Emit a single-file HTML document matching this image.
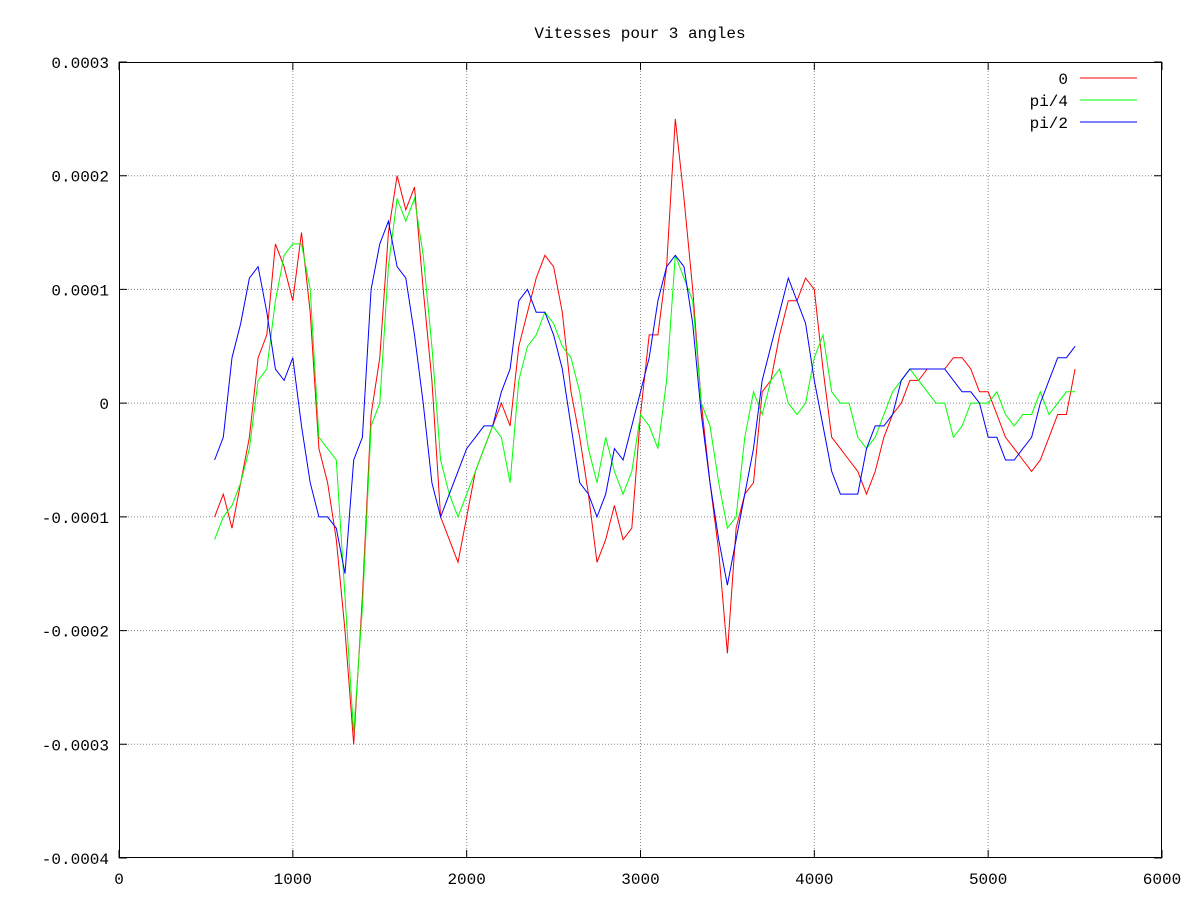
<!DOCTYPE html>
<html><head><meta charset="utf-8"><style>
body{margin:0;background:#fff}
svg{display:block;font-family:"Liberation Mono","DejaVu Sans Mono",monospace;font-size:16px}
</style></head><body>
<svg id="chart" width="1200" height="900" xmlns="http://www.w3.org/2000/svg">
<text x="640" y="38" text-anchor="middle">Vitesses pour 3 angles</text>
<g id="grid"></g>
<g id="axes"></g>
<g id="series"></g>
<g id="legend"></g>
</svg>
<script>
const xStart = 550, xStep = 50;
// values in units of 1e-5
const series0 = [-10,-8,-11,-7,-3,4,6,14,12,9,15,8,-4,-7,-12,-20,-30,-17,-1,4,15,20,17,19,10,2,-10,-12,-14,-10,-6,-4,-2,0,-2,5,8,11,13,12,8,1,-3,-8,-14,-12,-9,-12,-11,-1,6,6,12,25,18,10,0,-7,-13,-22,-11,-8,-7,1,2,6,9,9,11,10,3,-3,-4,-5,-6,-8,-6,-3,-1,0,2,2,3,3,3,4,4,3,1,1,-1,-3,-4,-5,-6,-5,-3,-1,-1,3];
const seriesPi4 = [-12,-10,-9,-7,-4,2,3,9,13,14,14,10,-3,-4,-5,-17,-29,-18,-2,0,12,18,16,18,13,5,-5,-8,-10,-8,-6,-4,-2,-3,-7,2,5,6,8,7,5,4,1,-4,-7,-3,-6,-8,-6,-1,-2,-4,2,13,11,9,0,-2,-7,-11,-10,-3,1,-1,2,3,0,-1,0,4,6,1,0,0,-3,-4,-3,-1,1,2,3,2,1,0,0,-3,-2,0,0,0,1,-1,-2,-1,-1,1,-1,0,1,1];
const seriesPi2 = [-5,-3,4,7,11,12,8,3,2,4,-2,-7,-10,-10,-11,-15,-5,-3,10,14,16,12,11,6,0,-7,-10,-8,-6,-4,-3,-2,-2,1,3,9,10,8,8,6,3,-2,-7,-8,-10,-8,-4,-5,-2,1,4,9,12,13,12,7,-1,-7,-12,-16,-12,-8,-4,2,5,8,11,9,7,2,-2,-6,-8,-8,-8,-4,-2,-2,-1,2,3,3,3,3,3,2,1,1,0,-3,-3,-5,-5,-4,-3,0,2,4,4,5];
const xTicks = [0,1000,2000,3000,4000,5000,6000];
const yTicks = [0.0003,0.0002,0.0001,0,-0.0001,-0.0002,-0.0003,-0.0004];
const yTickLabels = ["0.0003","0.0002","0.0001","0","-0.0001","-0.0002","-0.0003","-0.0004"];
const seriesNames = ["0","pi/4","pi/2"];
const seriesColors = ["#ff0000","#00ff00","#0000ff"];

const L=119,R=1162,T=62,B=858;
const sx=v=>L+(v-0)/6000*(R-L);
const sy=v=>T+(0.0003-v)/0.0007*(B-T);
const NS="http://www.w3.org/2000/svg";
function mk(tag,attrs,parent){const e=document.createElementNS(NS,tag);for(const k in attrs)e.setAttribute(k,attrs[k]);parent.appendChild(e);return e;}
const grid=document.getElementById('grid'),axes=document.getElementById('axes'),ser=document.getElementById('series'),leg=document.getElementById('legend');

xTicks.forEach((t,i)=>{
  const x=sx(t);
  if(i>0&&i<xTicks.length-1){const g=mk('line',{x1:x,x2:x,y1:T,y2:B,stroke:'#888','stroke-dasharray':'1,2','stroke-width':1},grid);
  
  }
  const tk=mk('path',{d:`M${x},${B}v-8M${x},${T}v8`,stroke:'#000','stroke-width':1},axes);
  
  
  const tx=mk('text',{x:x,y:B+26,'text-anchor':'middle',fill:'#000'},axes);tx.textContent=t;
  
  
});
yTicks.forEach((t,i)=>{
  const y=sy(t);
  if(i>0&&i<yTicks.length-1){const g=mk('line',{x1:L,x2:R,y1:y,y2:y,stroke:'#888','stroke-dasharray':'1,2','stroke-width':1},grid);
  
  }
  const tk=mk('path',{d:`M${L},${y}h8M${R},${y}h-8`,stroke:'#000','stroke-width':1},axes);
  
  
  const tx=mk('text',{x:L-10,y:y+6,'text-anchor':'end',fill:'#000'},axes);tx.textContent=yTickLabels[i];
  
  
});
const frame=mk('rect',{x:L+0.5,y:T+0.5,width:R-L-1,height:B-T-1,fill:'none',stroke:'#000','stroke-width':1},axes);



[series0,seriesPi4,seriesPi2].forEach((arr,si)=>{
  const pts=arr.map((v,i)=>sx(xStart+i*xStep).toFixed(1)+','+sy(v*1e-5).toFixed(1)).join(' ');
  const p=mk('polyline',{points:pts,fill:'none',stroke:seriesColors[si],'stroke-width':1},ser);
  
  
  const ly=78+si*22;
  const t=mk('text',{x:1068,y:ly+6,'text-anchor':'end',fill:'#000'},leg);t.textContent=seriesNames[si];
  
  
  const l=mk('line',{x1:1080,x2:1137,y1:ly,y2:ly,stroke:seriesColors[si],'stroke-width':1},leg);
  
  
});
</script>
</body></html>
